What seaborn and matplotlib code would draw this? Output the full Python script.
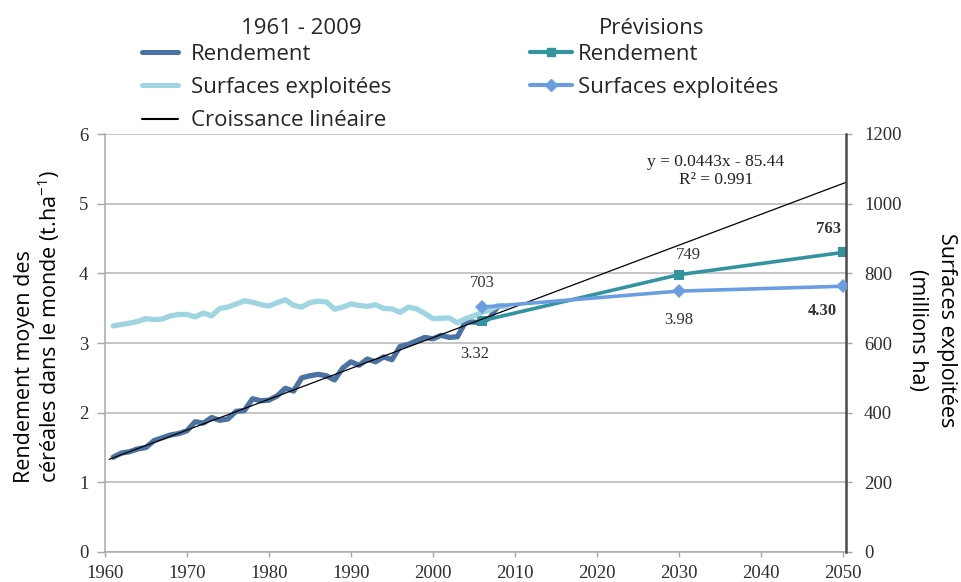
import numpy as np
import pandas as pd
import matplotlib
matplotlib.use("Agg")
import matplotlib.pyplot as plt
from matplotlib.lines import Line2D
import seaborn as sns

# ---------------- data ----------------
years_hist = list(range(1961, 2010))
yield_hist = [1.36, 1.42, 1.44, 1.48, 1.50, 1.60, 1.64, 1.68, 1.70, 1.74,
              1.87, 1.85, 1.93, 1.89, 1.91, 2.02, 2.03, 2.20, 2.17, 2.18,
              2.24, 2.35, 2.31, 2.50, 2.53, 2.55, 2.53, 2.47, 2.64, 2.73,
              2.68, 2.77, 2.73, 2.80, 2.76, 2.95, 2.98, 3.03, 3.08, 3.06,
              3.11, 3.08, 3.09, 3.31, 3.30, 3.29, 3.37, 3.54, 3.52]
area_hist = [649, 653, 657, 662, 670, 667, 669, 678, 682, 682,
             675, 686, 678, 699, 703, 712, 721, 717, 710, 706,
             716, 724, 708, 703, 716, 720, 718, 697, 703, 712,
             708, 705, 710, 699, 698, 688, 703, 698, 685, 670,
             671, 672, 658, 670, 678, 688, 695, 708, 704]

years_fc = [2006, 2030, 2050]
yield_fc = [3.32, 3.98, 4.30]
area_fc = [703, 749, 763]

trend_years = [1960.5, 2050.5]
trend_values = [1.33, 5.31]

x_ticks = list(range(1960, 2051, 10))
left_ticks = [0, 1, 2, 3, 4, 5, 6]
right_ticks = [0, 200, 400, 600, 800, 1000, 1200]

equation_text = "y = 0.0443x - 85.44\nR² = 0.991"

# ---------------- style ----------------
sns.set_theme(style="white")
plt.rcParams['font.family'] = ['Open Sans', 'DejaVu Sans']
plt.rcParams['mathtext.fontset'] = 'custom'
plt.rcParams['mathtext.rm'] = 'Open Sans'
plt.rcParams['mathtext.it'] = 'Open Sans'

C_YIELD = '#4a72a2'
C_AREA = '#9fd5e0'
C_YFC = '#33939f'
C_AFC = '#6a9ee0'
C_GRID = '#b5b5b5'
C_TICK = '#2e2e2e'
SERIF = ['Liberation Serif', 'DejaVu Serif']

fig = plt.figure(figsize=(9.61, 5.82), dpi=100)
ax = fig.add_axes([105/961, 1-552/582, (846-105)/961, (552-134)/582])
ax2 = ax.twinx()

df_hist = pd.DataFrame({'year': years_hist, 'yield': yield_hist, 'area': area_hist})
df_fc = pd.DataFrame({'year': years_fc, 'yield': yield_fc, 'area': area_fc})

sns.lineplot(data=df_hist, x='year', y='yield', ax=ax, color=C_YIELD, lw=3.8, zorder=3)
sns.lineplot(data=df_fc, x='year', y='yield', ax=ax, color=C_YFC, lw=2.6,
             marker='s', markersize=6.5, markeredgewidth=0, zorder=4)
ax.plot(trend_years, trend_values, color='black', lw=0.9, zorder=5)

sns.lineplot(data=df_hist, x='year', y='area', ax=ax2, color=C_AREA, lw=3.8, zorder=3)
sns.lineplot(data=df_fc, x='year', y='area', ax=ax2, color=C_AFC, lw=2.6,
             marker='D', markersize=7.5, markeredgewidth=0, zorder=4)

# axes limits & ticks
ax.set_xlim(1960, 2050.4)
ax.set_ylim(0, 6)
ax2.set_ylim(0, 1200)
ax.set_xticks(x_ticks)
ax.set_yticks(left_ticks)
ax2.set_yticks(right_ticks)
ax.set_xlabel('')
ax.set_ylabel('')
ax2.set_ylabel('')

ax.grid(axis='y', color=C_GRID, lw=1.1)
ax.set_axisbelow(True)

for a in (ax, ax2):
    a.spines['top'].set_visible(False)
ax.spines['right'].set_visible(False)
ax.spines['left'].set_color('#a8a8a8')
ax.spines['bottom'].set_color('#a8a8a8')
ax.spines['left'].set_linewidth(1.1)
ax.spines['bottom'].set_linewidth(1.1)
ax2.spines['left'].set_visible(False)
ax2.spines['bottom'].set_visible(False)
ax2.spines['right'].set_color('#4a4a4a')
ax2.spines['right'].set_linewidth(1.8)

ax.tick_params(axis='y', left=True, length=6, width=1, color='#a8a8a8', pad=6,
               labelsize=13.5, labelcolor=C_TICK)
ax.tick_params(axis='x', bottom=True, length=3.5, width=1, color='#a8a8a8', pad=6,
               labelsize=13.5, labelcolor=C_TICK)
ax2.tick_params(axis='y', right=True, length=4, width=1, color='#a8a8a8', pad=9,
                labelsize=13.5, labelcolor=C_TICK)
for lab in ax.get_xticklabels() + ax.get_yticklabels() + ax2.get_yticklabels():
    lab.set_family(SERIF)

# data labels
def lbl(axis, x, y, text, dx, dy, bold=False):
    axis.annotate(text, xy=(x, y), xytext=(dx, dy), textcoords='offset pixels',
                  ha='center', va='center', fontsize=12, family=SERIF,
                  fontweight='bold' if bold else 'normal', color='#333333')

lbl(ax2, years_fc[0], area_fc[0], f"{area_fc[0]}", 0, 24)
lbl(ax, years_fc[0], yield_fc[0], f"{yield_fc[0]:.2f}", -7, -33)
lbl(ax2, years_fc[1], area_fc[1], f"{area_fc[1]}", 10, 36)
lbl(ax, years_fc[1], yield_fc[1], f"{yield_fc[1]:.2f}", 0, -45)
lbl(ax2, years_fc[2], area_fc[2], f"{area_fc[2]}", -14, 57, bold=True)
lbl(ax, years_fc[2], yield_fc[2], f"{yield_fc[2]:.2f}", -20, -59, bold=True)

# equation
fig.text(716/961, 1-171/582, equation_text, ha='center', va='center',
         fontsize=12.5, family=SERIF, color='#222222', linespacing=1.2)

# axis labels
fig.text(38/961, 1-483/582, "Rendement moyen des\ncéréales dans le monde (t.ha$^{-1}$)",
         rotation=90, ha='center', va='bottom', multialignment='left',
         fontsize=15.5, color='black', linespacing=1.0)
fig.text(932/961, 1-330/582, "Surfaces exploitées\n(millions ha)",
         rotation=270, ha='center', va='center', multialignment='center',
         fontsize=15.5, color='black', linespacing=1.55)

# legends
h_left = [Line2D([], [], color=C_YIELD, lw=3.6),
          Line2D([], [], color=C_AREA, lw=3.6),
          Line2D([], [], color='black', lw=1.5)]
l_left = ['Rendement', 'Surfaces exploitées', 'Croissance linéaire']
h_right = [Line2D([], [], color=C_YFC, lw=3.0, marker='s', markersize=6),
           Line2D([], [], color=C_AFC, lw=3.0, marker='D', markersize=6.5)]
l_right = ['Rendement', 'Surfaces exploitées']

leg1 = fig.legend(h_left, l_left, loc='upper left',
                  bbox_to_anchor=(142/961, 1-44/582), frameon=False, fontsize=16,
                  borderpad=0, borderaxespad=0, handlelength=1.6, handletextpad=0.6,
                  labelspacing=0.55)
leg2 = fig.legend(h_right, l_right, loc='upper left',
                  bbox_to_anchor=(530/961, 1-44/582), frameon=False, fontsize=16,
                  borderpad=0, borderaxespad=0, handlelength=1.9, handletextpad=0.25,
                  labelspacing=0.55)

fig.text(301/961, 1-29/582, "1961 - 2009", ha='center', va='center', fontsize=16)
fig.text(652/961, 1-29/582, "Prévisions", ha='center', va='center', fontsize=16)

fig.savefig('out.png', dpi=100)
